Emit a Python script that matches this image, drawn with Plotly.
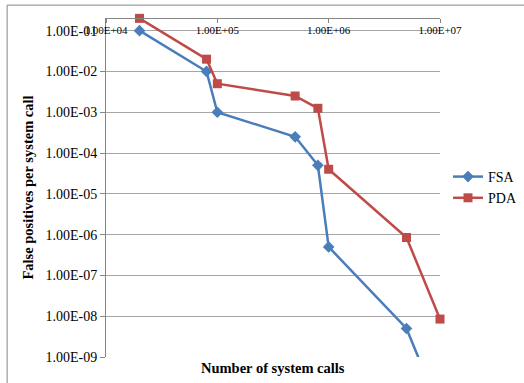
import plotly.graph_objects as go

# Data
fsa_calls = [2e4, 8e4, 1e5, 5e5, 8e5, 1e6, 5e6, 1e7]
fsa_fp = [1e-1, 1e-2, 1e-3, 2.5e-4, 5e-5, 5e-7, 5e-9, 5e-11]

pda_calls = [2e4, 8e4, 1e5, 5e5, 8e5, 1e6, 5e6, 1e7]
pda_fp = [2e-1, 2e-2, 5e-3, 2.5e-3, 1.25e-3, 4e-5, 8.5e-7, 8.5e-9]

x_tickvals = [1e4, 1e5, 1e6, 1e7]
x_ticktext = ["1.00E+04", "1.00E+05", "1.00E+06", "1.00E+07"]
y_tickvals = [1e-1, 1e-2, 1e-3, 1e-4, 1e-5, 1e-6, 1e-7, 1e-8, 1e-9]
y_ticktext = ["1.00E-01", "1.00E-02", "1.00E-03", "1.00E-04", "1.00E-05",
              "1.00E-06", "1.00E-07", "1.00E-08", "1.00E-09"]

FONT = "Liberation Serif"
BLUE = "#4a7ebb"
RED = "#be4b48"
GRID = "#a6a6a6"

fig = go.Figure()
fig.add_trace(go.Scatter(
    x=fsa_calls, y=fsa_fp, name="FSA", mode="lines+markers",
    line=dict(color=BLUE, width=2.5),
    marker=dict(symbol="diamond", size=9, color=BLUE),
    cliponaxis=False,
))
fig.add_trace(go.Scatter(
    x=pda_calls, y=pda_fp, name="PDA", mode="lines+markers",
    line=dict(color=RED, width=2.5),
    marker=dict(symbol="square", size=9, color=RED),
    cliponaxis=False,
))

fig.update_layout(
    width=524, height=383,
    margin=dict(l=106, r=84, t=18, b=26, autoexpand=False),
    paper_bgcolor="white", plot_bgcolor="white",
    font=dict(family=FONT, color="black", size=14),
    showlegend=True,
    legend=dict(x=1.024, xanchor="left", y=0.5, yanchor="middle",
                font=dict(family=FONT, size=14, color="black"),
                bgcolor="rgba(0,0,0,0)", itemwidth=30,
                tracegroupgap=0),
    xaxis=dict(
        type="log", range=[4, 7], side="bottom",
        anchor="free", position=1.0, automargin=False,
        tickvals=x_tickvals, ticktext=x_ticktext,
        ticks="outside", ticklen=4, tickcolor="#868686",
        ticklabelstandoff=-2,
        tickfont=dict(family=FONT, size=11, color="black"),
        showgrid=False, showline=True, linecolor="#868686", linewidth=1,
        zeroline=False,
        title=None,
    ),
    yaxis=dict(
        type="log", range=[-9, -0.69], automargin=False,
        tickvals=y_tickvals, ticktext=y_ticktext,
        ticks="outside", ticklen=5, tickcolor="#868686",
        tickfont=dict(family=FONT, size=14, color="black"),
        showgrid=True, gridcolor=GRID, gridwidth=1,
        showline=True, linecolor="#868686", linewidth=1,
        zeroline=False,
        title=dict(text="<b>False positives per system call</b>",
                   font=dict(family=FONT, size=14.5, color="black"),
                   standoff=8),
    ),
    annotations=[dict(
        text="<b>Number of system calls</b>", xref="paper", yref="paper",
        x=0.5, y=-0.002, xanchor="center", yanchor="top", showarrow=False,
        font=dict(family=FONT, size=14.5, color="black"),
    )],
    shapes=[dict(type="rect", xref="paper", yref="paper",
                 x0=-0.296, x1=1.3, y0=-0.2, y1=1.038,
                 line=dict(color="#868686", width=1), layer="below")],
)

fig.write_html("out.html",
               config={"displayModeBar": False},
               post_script="document.body.style.margin='0px';"
                           "document.body.style.overflow='hidden';")
